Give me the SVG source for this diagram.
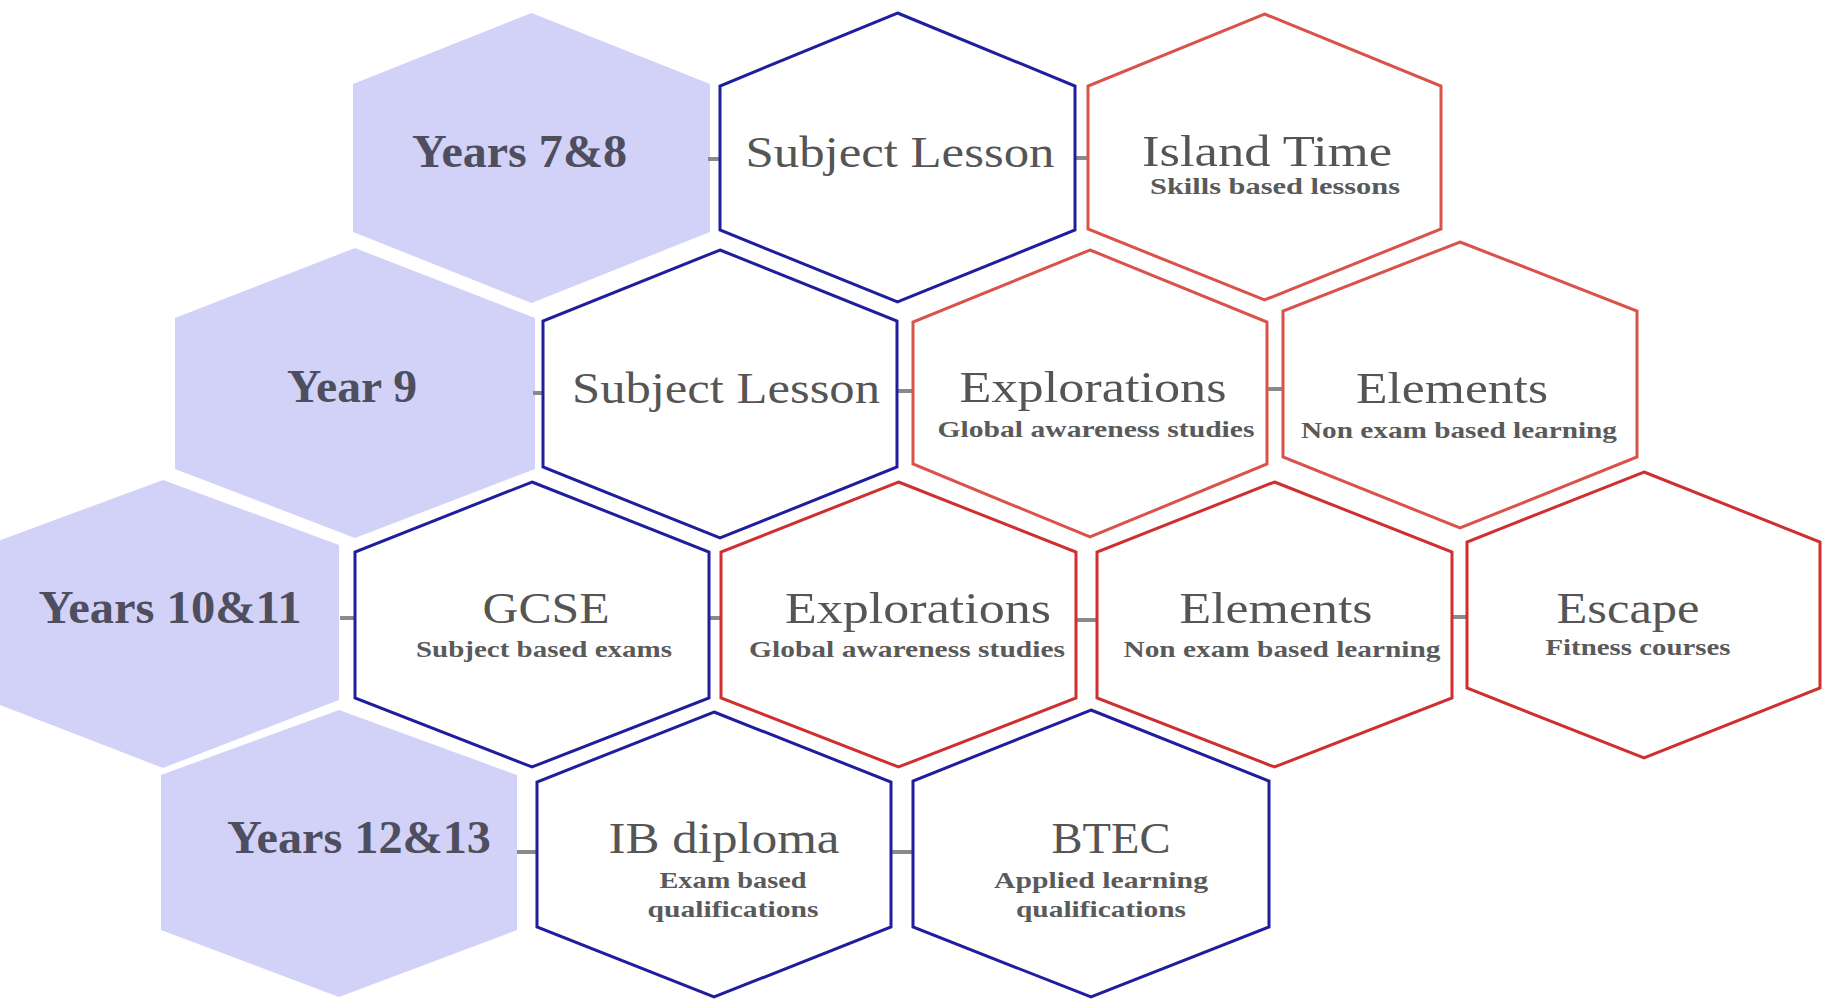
<svg xmlns="http://www.w3.org/2000/svg" width="1822" height="1000" viewBox="0 0 1822 1000">
<style>
.yr{fill:#d2d2f8;stroke:none}
.bl{fill:#ffffff;stroke:#1f1f9e;stroke-width:3;stroke-linejoin:miter}
.rd1{fill:#ffffff;stroke:#d9534b;stroke-width:3;stroke-linejoin:miter}
.rd2{fill:#ffffff;stroke:#cf2f2f;stroke-width:3;stroke-linejoin:miter}
.lbl{font-family:"Liberation Serif","Times New Roman",serif;font-weight:bold;font-size:46px;fill:#4e4e5e;text-anchor:middle}
.ttl{font-family:"Liberation Serif","Times New Roman",serif;font-size:45px;fill:#555555;text-anchor:middle}
.sub{font-family:"Liberation Serif","Times New Roman",serif;font-weight:bold;font-size:24px;fill:#5a5a5a;text-anchor:middle}
.cn{stroke:#8a8a8a;stroke-width:4;fill:none}
</style>
<rect x="0" y="0" width="1822" height="1000" fill="#ffffff"/>

<g id="years-7-8">
<polygon class="yr" points="531.5,13 710,84 710,232 531.5,303 353,232 353,84"/>
<text class="lbl" x="519.5" y="167" textLength="215" lengthAdjust="spacingAndGlyphs">Years 7&amp;8</text>
</g>
<g id="year-9">
<polygon class="yr" points="355,248 535,318 535,469 355,538 175,469 175,318"/>
<text class="lbl" x="352" y="402" textLength="130" lengthAdjust="spacingAndGlyphs">Year 9</text>
</g>
<g id="years-10-11">
<polygon class="yr" points="163,480 339,545 339,700 163,768 -13,700 -13,545"/>
<text class="lbl" x="170" y="623" textLength="263" lengthAdjust="spacingAndGlyphs">Years 10&amp;11</text>
</g>
<g id="years-12-13">
<polygon class="yr" points="339,710 517,775 517,930 339,997 161,930 161,775"/>
<text class="lbl" x="359" y="853" textLength="264" lengthAdjust="spacingAndGlyphs">Years 12&amp;13</text>
</g>

<g id="connectors">
<line class="cn" x1="708" y1="159" x2="721" y2="159"/>
<line class="cn" x1="1075" y1="158" x2="1089" y2="158"/>
<line class="cn" x1="533" y1="393" x2="545" y2="393"/>
<line class="cn" x1="897" y1="391" x2="913" y2="391"/>
<line class="cn" x1="1267" y1="389" x2="1283" y2="389"/>
<line class="cn" x1="340" y1="618" x2="355" y2="618"/>
<line class="cn" x1="709" y1="618" x2="721" y2="618"/>
<line class="cn" x1="1076" y1="620" x2="1097" y2="620"/>
<line class="cn" x1="1452" y1="617" x2="1467" y2="617"/>
<line class="cn" x1="517" y1="852" x2="537" y2="852"/>
<line class="cn" x1="891" y1="852" x2="913" y2="852"/>
</g>

<g id="subject-lesson-1">
<polygon class="bl" points="897.5,13 1075,86 1075,230 897.5,302 720,230 720,86"/>
<text class="ttl" x="900" y="167" textLength="309" lengthAdjust="spacingAndGlyphs">Subject Lesson</text>
</g>
<g id="island-time">
<polygon class="rd1" points="1264.5,14 1441,86 1441,229 1264.5,300 1088,229 1088,86"/>
<text class="ttl" x="1267" y="166" textLength="250" lengthAdjust="spacingAndGlyphs">Island Time</text>
<text class="sub" x="1275" y="194" textLength="250" lengthAdjust="spacingAndGlyphs">Skills based lessons</text>
</g>

<g id="subject-lesson-2">
<polygon class="bl" points="720,250 897,321 897,467 720,538 543,467 543,321"/>
<text class="ttl" x="726" y="403" textLength="308" lengthAdjust="spacingAndGlyphs">Subject Lesson</text>
</g>
<g id="explorations-1">
<polygon class="rd1" points="1090,250 1267,322 1267,464 1090,537 913,464 913,322"/>
<text class="ttl" x="1093" y="402" textLength="267" lengthAdjust="spacingAndGlyphs">Explorations</text>
<text class="sub" x="1096" y="437" textLength="317" lengthAdjust="spacingAndGlyphs">Global awareness studies</text>
</g>
<g id="elements-1">
<polygon class="rd1" points="1460,242 1637,311 1637,457 1460,528 1283,457 1283,311"/>
<text class="ttl" x="1452" y="403" textLength="192" lengthAdjust="spacingAndGlyphs">Elements</text>
<text class="sub" x="1459" y="438" textLength="316" lengthAdjust="spacingAndGlyphs">Non exam based learning</text>
</g>

<g id="gcse">
<polygon class="bl" points="532,482 709,552 709,698 532,767 355,698 355,552"/>
<text class="ttl" x="546" y="623" textLength="127" lengthAdjust="spacingAndGlyphs">GCSE</text>
<text class="sub" x="544" y="657" textLength="256" lengthAdjust="spacingAndGlyphs">Subject based exams</text>
</g>
<g id="explorations-2">
<polygon class="rd2" points="898.5,482 1076,552 1076,698 898.5,767 721,698 721,552"/>
<text class="ttl" x="918" y="623" textLength="266" lengthAdjust="spacingAndGlyphs">Explorations</text>
<text class="sub" x="907" y="657" textLength="316" lengthAdjust="spacingAndGlyphs">Global awareness studies</text>
</g>
<g id="elements-2">
<polygon class="rd2" points="1274.5,482 1452,552 1452,698 1274.5,767 1097,698 1097,552"/>
<text class="ttl" x="1276" y="623" textLength="193" lengthAdjust="spacingAndGlyphs">Elements</text>
<text class="sub" x="1282" y="657" textLength="317" lengthAdjust="spacingAndGlyphs">Non exam based learning</text>
</g>
<g id="escape">
<polygon class="rd2" points="1644,472 1820,542 1820,688 1644,758 1467,688 1467,542"/>
<text class="ttl" x="1628" y="623" textLength="143" lengthAdjust="spacingAndGlyphs">Escape</text>
<text class="sub" x="1638" y="655" textLength="185" lengthAdjust="spacingAndGlyphs">Fitness courses</text>
</g>

<g id="ib-diploma">
<polygon class="bl" points="714,712 891,782 891,927 714,997 537,927 537,782"/>
<text class="ttl" x="724" y="853" textLength="231" lengthAdjust="spacingAndGlyphs">IB diploma</text>
<text class="sub" x="733" y="888" textLength="147" lengthAdjust="spacingAndGlyphs">Exam based</text>
<text class="sub" x="733" y="917" textLength="171" lengthAdjust="spacingAndGlyphs">qualifications</text>
</g>
<g id="btec">
<polygon class="bl" points="1091,710 1269,781 1269,927 1091,997 913,927 913,781"/>
<text class="ttl" x="1111" y="853" textLength="119" lengthAdjust="spacingAndGlyphs">BTEC</text>
<text class="sub" x="1101" y="888" textLength="214" lengthAdjust="spacingAndGlyphs">Applied learning</text>
<text class="sub" x="1101" y="917" textLength="170" lengthAdjust="spacingAndGlyphs">qualifications</text>
</g>
</svg>
